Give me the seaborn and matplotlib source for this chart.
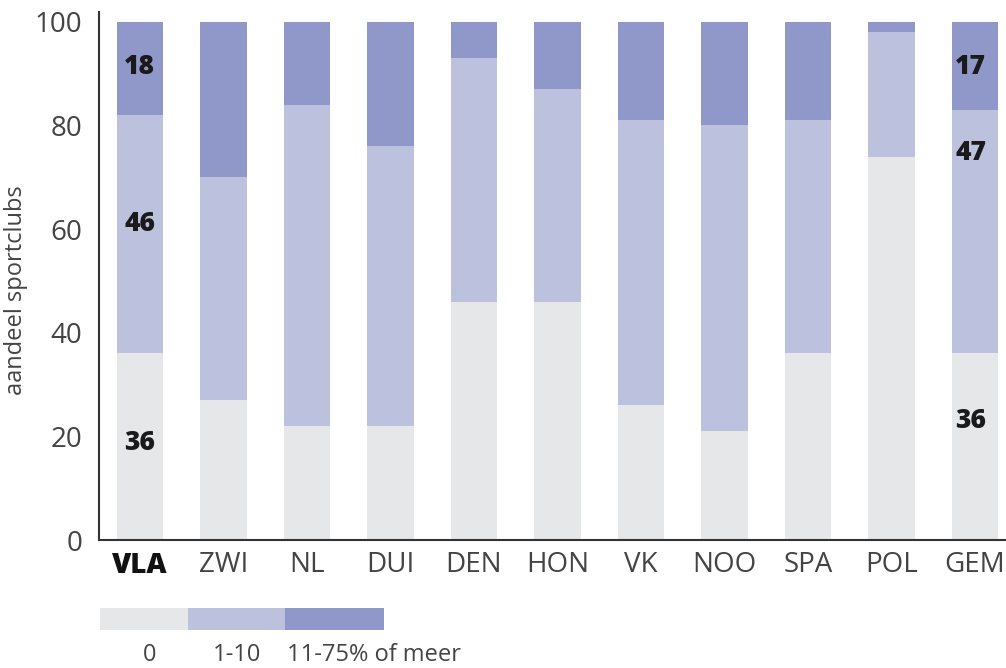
import matplotlib
matplotlib.use("Agg")
import matplotlib.pyplot as plt
import numpy as np
import pandas as pd
import seaborn as sns

# data (percent of sport clubs)
landen = ['VLA', 'ZWI', 'NL', 'DUI', 'DEN', 'HON', 'VK', 'NOO', 'SPA', 'POL', 'GEM']
geen = [36, 27, 22, 22, 46, 46, 26, 21, 36, 74, 36]          # 0
weinig = [46, 43, 62, 54, 47, 41, 55, 59, 45, 24, 47]        # 1-10
veel = [18, 30, 16, 24, 7, 13, 19, 20, 19, 2, 17]            # 11-75% of meer
legend_labels = ['0', '1-10', '11-75% of meer']
kleuren = ['#e6e7e9', '#bcc1de', '#8f98c8']

df = pd.DataFrame({'land': landen, 'geen': geen, 'weinig': weinig, 'veel': veel})
df['c1'] = df['geen']
df['c2'] = df['geen'] + df['weinig']
df['c3'] = df['c2'] + df['veel']

sns.set_style('white')
plt.rcParams['font.family'] = ['Open Sans', 'DejaVu Sans']

fig = plt.figure(figsize=(10.06, 6.68), dpi=100)
ax = fig.add_axes([0.0984, 0.1916, 0.9006, 0.7904])

# stacked bars: draw cumulative totals from top to bottom
for col, kleur in zip(['c3', 'c2', 'c1'], kleuren[::-1]):
    sns.barplot(data=df, x='land', y=col, color=kleur, width=0.56,
                saturation=1, ax=ax, linewidth=0, order=landen)

ax.set_xlim(-0.49, 10.36)
ax.set_ylim(0, 101.9)
ax.set_yticks([0, 20, 40, 60, 80, 100])
ax.set_xlabel('')
ax.set_ylabel('aandeel sportclubs', fontsize=17, color='#444444')
ax.yaxis.set_label_coords(-0.078, 0.473)
ax.tick_params(axis='y', length=0, labelsize=20, labelcolor='#444444', pad=12)
ax.tick_params(axis='x', length=0, labelsize=20, labelcolor='#444444', pad=8)
for lab in ax.get_xticklabels():
    if lab.get_text() == 'VLA':
        lab.set_fontweight('heavy')
        lab.set_color('#111111')

sns.despine(ax=ax, top=True, right=True)
for s in ['left', 'bottom']:
    ax.spines[s].set_color('#333333')
    ax.spines[s].set_linewidth(1.5)

# value labels on VLA and GEM
label_y = {0: [18.7, 61, 91.3], 10: [23, 74.7, 91.3]}
for idx, ys in label_y.items():
    xoff = 0 if idx == 0 else -0.05
    for val, yp in zip([geen[idx], weinig[idx], veel[idx]], ys):
        ax.text(idx + xoff, yp, str(val), ha='center', va='center',
                fontsize=19, fontweight='heavy', color='#1a1a1a')

# legend bar at the bottom
lax = fig.add_axes([0.0994, 0.0569, 0.2823, 0.033])
breedtes = [88, 96, 99]
links = np.cumsum([0] + breedtes[:-1])
lax.barh([0, 0, 0], breedtes, left=links, height=1, color=kleuren, linewidth=0)
lax.set_xlim(0, sum(breedtes))
lax.set_ylim(-0.5, 0.5)
lax.axis('off')

fig.text(150 / 1006, 0.0195, legend_labels[0], ha='center', va='center',
         fontsize=17, color='#444444')
fig.text(237 / 1006, 0.0195, legend_labels[1], ha='center', va='center',
         fontsize=17, color='#444444')
fig.text(287 / 1006, 0.0195, legend_labels[2], ha='left', va='center',
         fontsize=17, color='#444444')

plt.savefig('out.png', dpi=100)
